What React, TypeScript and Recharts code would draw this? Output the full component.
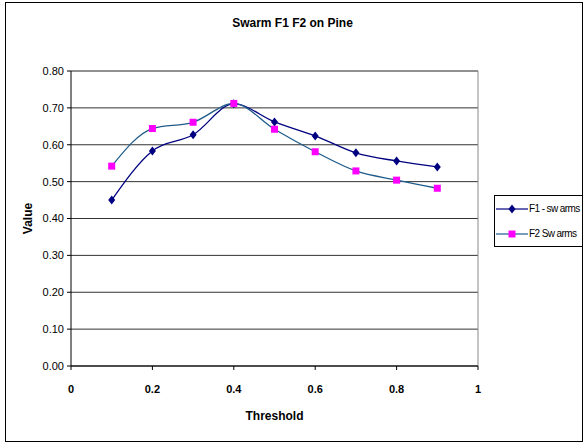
import { LineChart, Line, XAxis, YAxis, CartesianGrid, ReferenceLine } from "recharts";

const thresholds = [0.1, 0.2, 0.3, 0.4, 0.5, 0.6, 0.7, 0.8, 0.9];
const f1Swarms = [0.45, 0.583, 0.627, 0.711, 0.662, 0.624, 0.578, 0.556, 0.54];
const f2Swarms = [0.542, 0.644, 0.661, 0.712, 0.642, 0.581, 0.529, 0.504, 0.482];
const xTicks = [0, 0.2, 0.4, 0.6, 0.8, 1];
const yTicks = [0, 0.1, 0.2, 0.3, 0.4, 0.5, 0.6, 0.7, 0.8];

const F1_COLOR = "#000080";
const F2_LINE = "#1f5c8c";
const F2_MARK = "#ff00ff";
const FONT = "'Liberation Sans', Arial, sans-serif";

const data = thresholds.map((t, i) => ({ t, f1: f1Swarms[i], f2: f2Swarms[i] }));

function Diamond(props: any) {
  const { cx, cy } = props;
  if (cx == null || cy == null) return null;
  return <path d={`M${cx},${cy - 4.5}L${cx + 3.5},${cy}L${cx},${cy + 4.5}L${cx - 3.5},${cy}Z`} fill={F1_COLOR} />;
}

function Square(props: any) {
  const { cx, cy } = props;
  if (cx == null || cy == null) return null;
  return <rect x={cx - 3.5} y={cy - 3.5} width={7} height={7} fill={F2_MARK} />;
}

// legend drawn outside the chart so it doesn't eat into the plot area
function LegendBox() {
  const row = (color: string, mark: "d" | "s", label: string) => (
    <div style={{ display: "flex", alignItems: "center", height: 25, whiteSpace: "nowrap" }}>
      <svg width={33} height={12} style={{ flex: "none" }}>
        <line x1={1} y1={6} x2={33} y2={6} stroke={color} strokeWidth={1.2} />
        {mark === "d" ? (
          <path d="M17,1.5L20.5,6L17,10.5L13.5,6Z" fill={F1_COLOR} />
        ) : (
          <rect x={13.5} y={2.5} width={7} height={7} fill={F2_MARK} />
        )}
      </svg>
      <span style={{ fontSize: 10, marginLeft: 1, letterSpacing: -0.6 }}>{label}</span>
    </div>
  );
  return (
    <div
      style={{
        position: "absolute",
        left: 494,
        top: 195,
        width: 89,
        height: 52,
        border: "1px solid #000",
        boxSizing: "border-box",
        fontFamily: FONT,
        color: "#000",
        background: "#fff",
      }}
    >
      {row(F1_COLOR, "d", "F1 - sw arms")}
      {row(F2_LINE, "s", "F2 Sw arms")}
    </div>
  );
}

export default function App() {
  return (
    <div style={{ position: "absolute", left: 0, top: 0, width: 585, height: 444, background: "#fff", fontFamily: FONT }}>
      <div style={{ position: "absolute", left: 0, top: 0 }}>
        <LineChart width={585} height={444} data={data} margin={{ top: 71, right: 107, bottom: 0, left: 0 }}>
          <CartesianGrid vertical={false} horizontal stroke="#333" strokeWidth={1} />
          <ReferenceLine x={1} stroke="#888" />
          <ReferenceLine y={0.8} stroke="#888" />
          <XAxis
            dataKey="t"
            type="number"
            domain={[0, 1]}
            ticks={xTicks}
            tickFormatter={(v: number) => String(v)}
            height={78}
            tickSize={4}
            tickMargin={15}
            axisLine={{ stroke: "#000" }}
            tickLine={{ stroke: "#000" }}
            tick={{ fill: "#000", fontSize: 11, fontWeight: "bold", fontFamily: FONT }}
            label={(p: any) => {
              const vb = p.viewBox;
              return (
                <text x={vb.x + vb.width / 2} y={vb.y + 54} textAnchor="middle" fontSize={12} fontWeight="bold" fill="#000" fontFamily={FONT}>
                  Threshold
                </text>
              );
            }}
          />
          <YAxis
            type="number"
            domain={[0, 0.8]}
            ticks={yTicks}
            tickFormatter={(v: number) => v.toFixed(2)}
            width={71}
            tickSize={4}
            tickMargin={3}
            axisLine={{ stroke: "#000" }}
            tickLine={{ stroke: "#000" }}
            tick={{ fill: "#000", fontSize: 11, fontFamily: FONT }}
            label={(p: any) => {
              const vb = p.viewBox;
              const cy = vb.y + vb.height / 2;
              return (
                <text x={32} y={cy} transform={`rotate(-90, 32, ${cy})`} textAnchor="middle" fontSize={12} fontWeight="bold" fill="#000" fontFamily={FONT}>
                  Value
                </text>
              );
            }}
          />
          <Line
            type="monotone"
            dataKey="f1"
            name="F1 - swarms"
            stroke={F1_COLOR}
            strokeWidth={1.3}
            dot={<Diamond />}
            activeDot={false}
            isAnimationActive={false}
          />
          <Line
            type="monotone"
            dataKey="f2"
            name="F2 Swarms"
            stroke={F2_LINE}
            strokeWidth={1.3}
            dot={<Square />}
            activeDot={false}
            isAnimationActive={false}
          />
        </LineChart>
      </div>
      <div
        style={{
          position: "absolute",
          left: 5,
          top: 2,
          width: 578,
          height: 440,
          border: "1.5px solid #000",
          boxSizing: "border-box",
          pointerEvents: "none",
        }}
      />
      <div
        style={{
          position: "absolute",
          left: 0,
          top: 16,
          width: 585,
          textAlign: "center",
          fontSize: 12,
          fontWeight: "bold",
          color: "#000",
        }}
      >
        Swarm F1 F2 on Pine
      </div>
      <LegendBox />
    </div>
  );
}
